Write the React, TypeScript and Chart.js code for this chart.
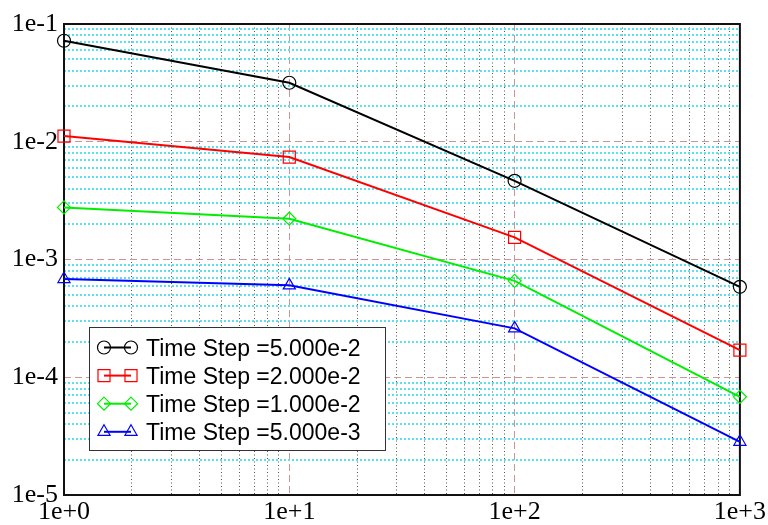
import React, { useEffect, useRef } from 'react';
import { Chart, registerables } from 'chart.js';

Chart.register(...registerables);

// Axis decades and their labels
const X_DECADES = [1, 10, 100, 1000];
const X_LABELS = ['1e+0', '1e+1', '1e+2', '1e+3'];
const Y_DECADES = [1e-5, 1e-4, 1e-3, 1e-2, 1e-1];
const Y_LABELS = ['1e-5', '1e-4', '1e-3', '1e-2', '1e-1'];

// Sample points (x) and error values for each time step
const X_VALUES = [1, 10, 100, 1000];
const ERR_DT_5E2 = [0.0721, 0.0317, 0.00466, 5.86e-4];
const ERR_DT_2E2 = [0.01118, 0.00741, 0.00154, 1.7e-4];
const ERR_DT_1E2 = [0.00277, 0.00222, 6.59e-4, 6.82e-5];
const ERR_DT_5E3 = [6.82e-4, 6.03e-4, 2.6e-4, 2.83e-5];

const SERIES_LABELS = [
  'Time Step =5.000e-2',
  'Time Step =2.000e-2',
  'Time Step =1.000e-2',
  'Time Step =5.000e-3',
];
const SERIES_VALUES = [ERR_DT_5E2, ERR_DT_2E2, ERR_DT_1E2, ERR_DT_5E3];
const SERIES_COLORS = ['#000000', '#ff0000', '#00ee00', '#0000ff'];
const POINT_STYLES = ['circle', 'rect', 'rectRot', 'triangle'] as const;
const POINT_RADII = [6.5, 8.5, 6.5, 7];

const MAJOR_GRID = 'rgb(200,150,150)';
const X_MINOR_GRID = 'rgb(85,85,85)';
const Y_MINOR_GRID = 'rgb(90,225,235)';

const SERIF = 'Liberation Serif';
const SANS = 'Liberation Sans';

// Tick values at 1..9 times each decade
function decadeTicks(decades: number[]) {
  const out: number[] = [];
  decades.forEach((d, i) => {
    out.push(d);
    if (i < decades.length - 1) {
      for (let m = 2; m <= 9; m++) out.push(m * d);
    }
  });
  return out;
}

function drawMarker(ctx: CanvasRenderingContext2D, style: string, x: number, y: number, r: number) {
  ctx.beginPath();
  if (style === 'circle') {
    ctx.arc(x, y, r, 0, Math.PI * 2);
  } else if (style === 'rect') {
    const s = Math.SQRT1_2 * r;
    ctx.rect(x - s, y - s, 2 * s, 2 * s);
  } else if (style === 'rectRot') {
    ctx.moveTo(x, y - r);
    ctx.lineTo(x + r, y);
    ctx.lineTo(x, y + r);
    ctx.lineTo(x - r, y);
    ctx.closePath();
  } else if (style === 'triangle') {
    for (let k = 0; k < 3; k++) {
      const a = (k * 2 * Math.PI) / 3;
      const px = x + Math.sin(a) * r;
      const py = y - Math.cos(a) * r;
      if (k === 0) ctx.moveTo(px, py);
      else ctx.lineTo(px, py);
    }
    ctx.closePath();
  }
  ctx.stroke();
}

// Frame around the plotting area
const framePlugin = {
  id: 'plotFrame',
  beforeDatasetsDraw(chart: any) {
    const { ctx, chartArea } = chart;
    ctx.save();
    ctx.strokeStyle = '#111';
    ctx.lineWidth = 2;
    ctx.setLineDash([]);
    ctx.strokeRect(chartArea.left, chartArea.top, chartArea.right - chartArea.left, chartArea.bottom - chartArea.top);
    ctx.restore();
  },
};

// Boxed legend inside the lower-left of the plot
const boxLegendPlugin = {
  id: 'boxLegend',
  afterDraw(chart: any) {
    const ctx: CanvasRenderingContext2D = chart.ctx;
    const left = 89.5;
    const top = 327.5;
    const width = 296;
    const height = 123;
    ctx.save();
    ctx.setLineDash([]);
    ctx.fillStyle = '#ffffff';
    ctx.fillRect(left, top, width, height);
    ctx.strokeStyle = '#333';
    ctx.lineWidth = 1;
    ctx.strokeRect(left, top, width, height);

    SERIES_LABELS.forEach((label, i) => {
      const y = 347.5 + i * 28.1;
      const x0 = 104;
      const x1 = 131;
      ctx.strokeStyle = SERIES_COLORS[i];
      ctx.lineWidth = 2;
      ctx.beginPath();
      ctx.moveTo(x0, y);
      ctx.lineTo(x1, y);
      ctx.stroke();
      ctx.lineWidth = 1.2;
      drawMarker(ctx, POINT_STYLES[i], x0, y, POINT_RADII[i]);
      drawMarker(ctx, POINT_STYLES[i], x1, y, POINT_RADII[i]);
      ctx.fillStyle = '#000';
      ctx.font = `23px "${SANS}"`;
      ctx.textAlign = 'left';
      ctx.textBaseline = 'alphabetic';
      ctx.fillText(label, 146, y + 8);
    });
    ctx.restore();
  },
};

export default function App() {
  const canvasRef = useRef<HTMLCanvasElement | null>(null);

  useEffect(() => {
    document.body.style.margin = '0';
    const canvas = canvasRef.current;
    if (!canvas) return;

    const datasets = SERIES_LABELS.map((label, i) => ({
      label,
      data: X_VALUES.map((x, j) => ({ x, y: SERIES_VALUES[i][j] })),
      borderColor: SERIES_COLORS[i],
      backgroundColor: SERIES_COLORS[i],
      borderWidth: 2,
      pointStyle: POINT_STYLES[i],
      pointRadius: POINT_RADII[i],
      pointBorderWidth: 1.2,
      pointBorderColor: SERIES_COLORS[i],
      pointBackgroundColor: 'rgba(0,0,0,0)',
      tension: 0,
      clip: false as any,
    }));

    const chart = new Chart(canvas, {
      type: 'line',
      data: { datasets },
      plugins: [framePlugin, boxLegendPlugin],
      options: {
        animation: false,
        responsive: false,
        devicePixelRatio: 1,
        layout: { padding: { top: 24, right: 28, left: 0, bottom: 0 } },
        plugins: { legend: { display: false }, tooltip: { enabled: false } },
        scales: {
          x: {
            type: 'logarithmic',
            min: 1,
            max: 1000,
            afterBuildTicks: (scale: any) => {
              scale.ticks = decadeTicks(X_DECADES).map((v) => ({ value: v }));
            },
            afterFit: (scale: any) => {
              scale.height = 30;
            },
            grid: {
              drawTicks: false,
              color: (c: any) => (X_DECADES.includes(c.tick?.value) ? MAJOR_GRID : X_MINOR_GRID),
              lineWidth: 1,
            },
            border: {
              display: false,
              dash: (c: any) => (X_DECADES.includes(c.tick?.value) ? [7, 4] : [1, 2.5]),
            },
            ticks: {
              autoSkip: false,
              maxRotation: 0,
              padding: 2,
              color: '#000',
              font: { family: SERIF, size: 26 },
              callback: (value: any) => {
                const k = X_DECADES.indexOf(Number(value));
                return k >= 0 ? X_LABELS[k] : '';
              },
            },
          },
          y: {
            type: 'logarithmic',
            min: 1e-5,
            max: 1e-1,
            afterBuildTicks: (scale: any) => {
              scale.ticks = decadeTicks(Y_DECADES).map((v) => ({ value: v }));
            },
            afterFit: (scale: any) => {
              scale.width = 64;
            },
            grid: {
              drawTicks: false,
              color: (c: any) => (Y_DECADES.includes(c.tick?.value) ? MAJOR_GRID : Y_MINOR_GRID),
              lineWidth: (c: any) => (Y_DECADES.includes(c.tick?.value) ? 1 : 2),
            },
            border: {
              display: false,
              dash: (c: any) => (Y_DECADES.includes(c.tick?.value) ? [7, 4] : [2, 2]),
            },
            ticks: {
              autoSkip: false,
              padding: 6,
              color: '#000',
              font: { family: SERIF, size: 26 },
              callback: (value: any) => {
                const k = Y_DECADES.indexOf(Number(value));
                return k >= 0 ? Y_LABELS[k] : '';
              },
            },
          },
        },
      } as any,
    });

    return () => chart.destroy();
  }, []);

  return (
    <div style={{ position: 'absolute', left: 0, top: 0, width: 768, height: 525, background: '#fff' }}>
      <canvas ref={canvasRef} width={768} height={525} />
    </div>
  );
}
